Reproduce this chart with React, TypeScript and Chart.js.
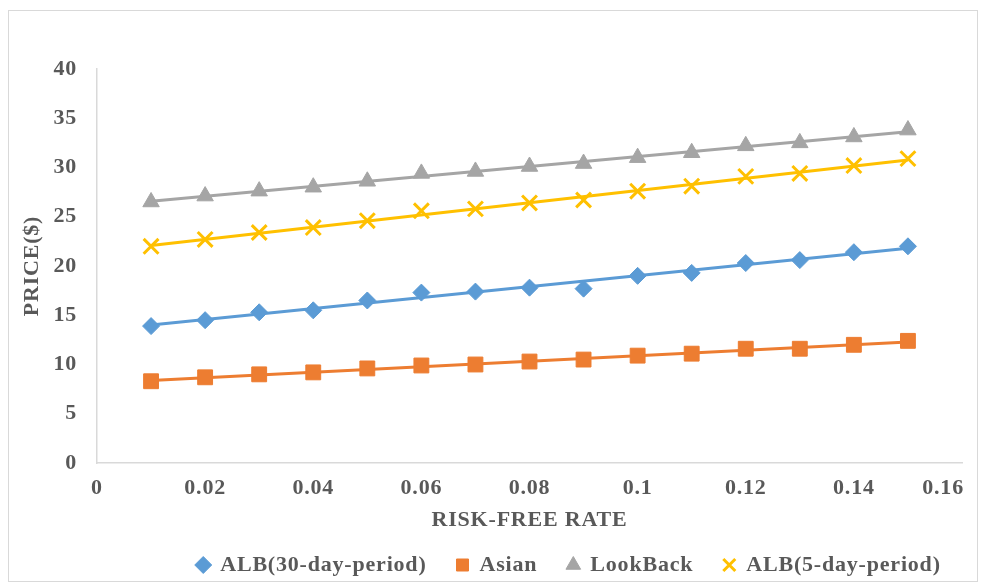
import React, { useEffect, useRef } from "react";
import { Chart, registerables } from "chart.js";

Chart.register(...registerables);

const rates = [0.01, 0.02, 0.03, 0.04, 0.05, 0.06, 0.07, 0.08, 0.09, 0.1, 0.11, 0.12, 0.13, 0.14, 0.15];
const alb30 = [13.9, 14.5, 15.3, 15.5, 16.5, 17.3, 17.4, 17.8, 17.7, 19.0, 19.3, 20.3, 20.6, 21.4, 22.0];
const asian = [8.3, 8.7, 9.0, 9.2, 9.6, 9.9, 10.0, 10.3, 10.5, 10.9, 11.1, 11.6, 11.6, 12.0, 12.4];
const lookBack = [26.5, 27.1, 27.6, 28.0, 28.6, 29.4, 29.6, 30.1, 30.4, 31.0, 31.5, 32.2, 32.5, 33.1, 33.8];
const alb5 = [22.0, 22.7, 23.4, 23.9, 24.6, 25.6, 25.8, 26.4, 26.7, 27.6, 28.1, 29.1, 29.4, 30.2, 30.9];

const xMin = 0;
const xMax = 0.16;
const xStep = 0.02;
const yMin = 0;
const yMax = 40;
const yStep = 5;

const FONT = "'Liberation Serif', 'Times New Roman', serif";
const TXT = "#595959";
const FS = 22;

function pts(vals: number[]) {
  return vals.map((v, i) => ({ x: rates[i], y: v }));
}

// Linear (least-squares) trendline through the series, spanning the data range
function trend(vals: number[]) {
  const n = vals.length;
  const mx = rates.reduce((a, b) => a + b, 0) / n;
  const my = vals.reduce((a, b) => a + b, 0) / n;
  let sxy = 0;
  let sxx = 0;
  for (let i = 0; i < n; i++) {
    sxy += (rates[i] - mx) * (vals[i] - my);
    sxx += (rates[i] - mx) * (rates[i] - mx);
  }
  const b = sxy / sxx;
  const a = my - b * mx;
  const x0 = rates[0];
  const x1 = rates[n - 1];
  return [
    { x: x0, y: a + b * x0 },
    { x: x1, y: a + b * x1 },
  ];
}

const spacingPlugin = {
  id: "spacing",
  beforeUpdate(chart: any) {
    chart.ctx.letterSpacing = "0.8px";
  },
  beforeDraw(chart: any) {
    chart.ctx.letterSpacing = "0.8px";
  },
  afterLayout(chart: any) {
    const l = chart.legend;
    if (l) {
      l.left += 84;
      l.right += 84;
    }
  },
};

export default function App() {
  const ref = useRef<HTMLCanvasElement | null>(null);
  useEffect(() => {
    if (!ref.current) return;
    const marks = (label: string, data: number[], color: string, style: any, r: number) => ({
      label,
      data: pts(data),
      showLine: false,
      borderColor: color,
      backgroundColor: color,
      borderWidth: 3,
      pointStyle: style,
      pointRadius: r,
      pointBorderWidth: style === "crossRot" ? 3 : 1,
      pointBorderColor: color,
      pointBackgroundColor: color,
      order: 1,
    });
    const line = (label: string, data: number[], color: string) => ({
      label,
      data: trend(data),
      showLine: true,
      borderColor: color,
      backgroundColor: color,
      borderWidth: 3,
      pointRadius: 0,
      tension: 0,
      order: 2,
    });
    const chart = new Chart(ref.current, {
      type: "line",
      plugins: [spacingPlugin],
      data: {
        datasets: [
          marks("ALB(30-day-period)", alb30, "#5B9BD5", "rectRot", 8.5),
          marks("Asian", asian, "#ED7D31", "rect", 10.5),
          marks("LookBack", lookBack, "#A5A5A5", "triangle", 9.5),
          marks("ALB(5-day-period)", alb5, "#FFC000", "crossRot", 10.5),
          line("trend-alb30", alb30, "#5B9BD5"),
          line("trend-asian", asian, "#ED7D31"),
          line("trend-lookback", lookBack, "#A5A5A5"),
          line("trend-alb5", alb5, "#FFC000"),
        ] as any,
      },
      options: {
        animation: false,
        responsive: false,
        maintainAspectRatio: false,
        layout: { padding: { left: 0, right: 25, top: 61, bottom: 0 } },
        plugins: {
          tooltip: { enabled: false },
          legend: {
            position: "bottom",
            labels: {
              usePointStyle: true,
              boxWidth: 12,
              boxHeight: 12,
              padding: 30,
              color: TXT,
              font: { family: FONT, size: FS, weight: "bold" },
              filter: (item: any) => !String(item.text).startsWith("trend-"),
            },
          },
        },
        scales: {
          x: {
            type: "linear",
            min: xMin,
            max: xMax,
            border: { display: true, color: "#D9D9D9", width: 1.5 },
            grid: { display: false, drawTicks: false },
            ticks: {
              stepSize: xStep,
              padding: 12,
              color: TXT,
              font: { family: FONT, size: FS, weight: "bold" },
              callback: (v: any) => {
                const s = String(Number(Number(v).toFixed(2)));
                // keep the last label inside the frame, as in the original
                return Math.abs(Number(v) - xMax) < 1e-9 ? s + "      " : s;
              },
              maxRotation: 0,
            },
            title: {
              display: true,
              text: "RISK-FREE RATE",
              color: TXT,
              font: { family: FONT, size: FS, weight: "bold" },
              padding: { top: 4, bottom: -10 },
            },
            afterFit: (s: any) => {
              s.height = 61;
              s.paddingLeft = 0;
              s.paddingRight = 0;
            },
          },
          y: {
            type: "linear",
            min: yMin,
            max: yMax,
            border: { display: true, color: "#D9D9D9", width: 1.5 },
            grid: { display: false, drawTicks: false },
            ticks: {
              stepSize: yStep,
              padding: 20,
              color: TXT,
              font: { family: FONT, size: FS, weight: "bold" },
            },
            title: {
              display: true,
              text: "PRICE($)",
              color: TXT,
              font: { family: FONT, size: FS, weight: "bold" },
              padding: { top: 11, bottom: 0 },
            },
            afterFit: (s: any) => {
              s.width = 89;
            },
          },
        },
      } as any,
    });
    return () => chart.destroy();
  }, []);
  return (
    <div style={{ position: "relative", width: 979, height: 578, background: "#fff" }}>
      <div
        style={{
          position: "absolute",
          left: 0,
          top: 2,
          width: 970,
          height: 572,
          border: "1px solid #D9D9D9",
          boxSizing: "border-box",
        }}
      />
      <canvas ref={ref} width={979} height={578} style={{ position: "absolute", left: 0, top: 0 }} />
    </div>
  );
}
